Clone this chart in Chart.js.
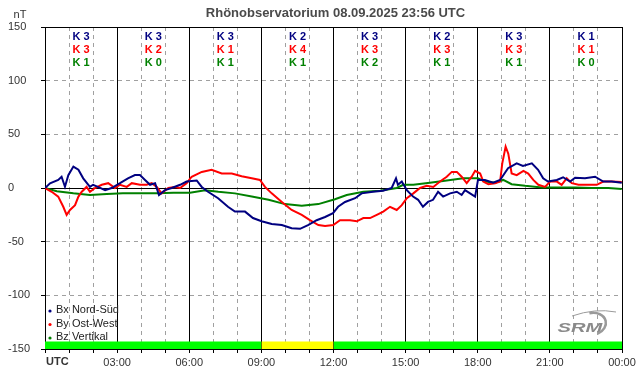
<!DOCTYPE html>
<html>
<head>
<meta charset="utf-8">
<title>Rhönobservatorium</title>
<script src="https://cdn.jsdelivr.net/npm/chart.js@4/dist/chart.umd.min.js"></script>
<style>
  html, body { margin: 0; padding: 0; background: #fff; }
</style>
</head>
<body>
<canvas id="chart" width="642" height="376"></canvas>
<script>
// --- data ---
const titleText = "Rhönobservatorium 08.09.2025 23:56 UTC";
const unitLabel = "nT";
const timeLabels = ["UTC", "03:00", "06:00", "09:00", "12:00", "15:00", "18:00", "21:00", "00:00"];

// K indices per 3-hour block
const kBx = [3, 3, 3, 2, 3, 2, 3, 1];
const kBy = [3, 2, 1, 4, 3, 3, 3, 1];
const kBz = [1, 0, 1, 1, 2, 1, 1, 0];

// hours since 00:00 UTC / nT
const bxTimes = [0, 0.21, 0.55, 0.69, 0.83, 0.97, 1.18, 1.39, 1.59, 1.87, 2.0, 2.2, 2.5, 2.77, 3.12, 3.45, 3.74, 3.95, 4.16, 4.37, 4.58, 4.74, 4.99, 5.27, 5.62, 5.89, 6.31, 6.52, 6.78, 7.2, 7.61, 7.9, 8.32, 8.65, 9.01, 9.43, 9.85, 10.26, 10.61, 10.94, 11.3, 11.65, 11.98, 12.19, 12.48, 12.9, 13.17, 13.64, 14.06, 14.42, 14.6, 14.68, 14.84, 15.05, 15.31, 15.52, 15.72, 15.93, 16.14, 16.35, 16.56, 16.85, 17.13, 17.33, 17.47, 17.68, 17.89, 18.01, 18.3, 18.64, 18.93, 19.26, 19.62, 19.88, 20.25, 20.51, 20.72, 20.92, 21.29, 21.55, 21.84, 22.05, 22.46, 22.88, 23.22, 23.57, 23.99];
const bxValues = [0, 4.4, 7.5, 10.5, 1.2, 12, 20, 17, 9, 1, 3, 1, -2, 0, 4.5, 9, 12, 12, 7.5, 3, 4.5, -6.5, -2, 0, 3, 6, 7, 1, -3.5, -9.5, -17.5, -22, -22, -28, -31, -33.5, -34.5, -37.5, -38, -34.5, -30, -27, -23.5, -17.5, -13, -9.5, -5, -3.5, -2.5, 0, 9, 3, 6, -2, -8, -11, -17.5, -13, -11, -3.5, -8, -5, -3.5, -6.5, -2, -5, -8, 7.5, 7.5, 5, 7.5, 18.5, 23, 20.5, 23, 17, 9, 6, 7.5, 10, 6, 9.5, 9, 10.5, 6, 6, 5];

const byTimes = [0, 0.28, 0.55, 0.76, 0.9, 1.04, 1.25, 1.39, 1.53, 1.73, 1.87, 2.08, 2.36, 2.63, 2.91, 3.12, 3.4, 3.61, 3.95, 4.23, 4.44, 4.65, 4.85, 5.13, 5.41, 5.62, 5.89, 6.1, 6.52, 6.93, 7.35, 7.77, 8.18, 8.6, 8.94, 9.15, 9.43, 9.85, 10.26, 10.68, 11.02, 11.37, 11.65, 11.99, 12.27, 12.69, 12.97, 13.24, 13.52, 13.8, 14.07, 14.35, 14.63, 14.84, 15.05, 15.32, 15.6, 15.88, 16.15, 16.43, 16.71, 16.92, 17.13, 17.33, 17.54, 17.75, 17.89, 18.1, 18.23, 18.44, 18.72, 18.93, 19.02, 19.16, 19.27, 19.41, 19.62, 19.9, 20.1, 20.31, 20.52, 20.8, 21.01, 21.29, 21.49, 21.7, 21.91, 22.19, 22.6, 22.95, 23.22, 23.57, 23.99];
const byValues = [0, -3.5, -8, -17.5, -25, -20.5, -16, -8, -3.5, 1, -3.5, 0, 3, 4.5, 0, 3, 1, 4.5, 3, 3, 4.5, 1, -5, 0, 1, 0, 4.5, 10.5, 15, 17, 13.5, 13.5, 11, 9, 7.5, 1, -5, -13, -20.5, -25, -30, -34.5, -35.5, -34.5, -30, -30, -31, -28, -28, -25, -22, -17.5, -20.5, -16, -9.5, -5, 0, 2, 1, 6, 10.5, 15, 15, 10.5, 4.5, 10.5, 16, 13.5, 6, 3.5, 4.5, 6, 23, 38.5, 32, 13.5, 12, 16, 13.5, 7.5, 3, 1, 6, 6, 3, 9, 4.5, 3, 3, 3, 6, 6, 5.5];

const bzTimes = [0, 0.49, 1.18, 1.87, 2.57, 3.24, 3.95, 4.65, 5.34, 6.03, 6.66, 7.21, 7.9, 8.6, 9.3, 9.98, 10.68, 11.37, 12.06, 12.55, 13.24, 13.94, 14.63, 14.9, 15.32, 16.01, 16.71, 17.4, 18.01, 18.3, 18.72, 19.06, 19.41, 19.97, 20.66, 21.35, 22.05, 22.74, 23.43, 23.99];
const bzValues = [0, -3, -5, -6.5, -5.5, -5, -5, -5, -4.5, -4.5, -2, -3.5, -5, -8, -11, -15, -16.5, -15, -10.5, -6.5, -3.5, -2.5, 0, 3, 3, 5, 7, 9, 9, 6, 5, 7.5, 3.5, 2, 0.5, 0.5, 0.5, 0, 0, -1];

// activity band along the bottom
const bandStarts = [0, 9, 12];
const bandEnds = [9, 12, 24];
const bandLevels = ["quiet", "active", "quiet"];

// --- styling ---
const FONT = "'Liberation Sans', Arial, sans-serif";
const BX_COLOR = "#000080";
const BY_COLOR = "#ff0000";
const BZ_COLOR = "#008000";
const BAND_COLORS = { quiet: "#00ff00", active: "#ffff00" };
const BAND_TOP = -143;

function toPoints(times, values) {
    return times.map((t, i) => ({ x: t, y: values[i] }));
}

function lineSet(label, times, values, color) {
    return {
        label: label,
        data: toPoints(times, values),
        borderColor: color,
        backgroundColor: color,
        borderWidth: 2,
        pointRadius: 0,
        tension: 0,
        fill: false
    };
}

const datasets = [
    lineSet("Bx Nord-Süd", bxTimes, bxValues, BX_COLOR),
    lineSet("By Ost-West", byTimes, byValues, BY_COLOR),
    lineSet("Bz Vertikal", bzTimes, bzValues, BZ_COLOR)
];

bandStarts.forEach((start, i) => {
    datasets.push({
        label: "",
        band: true,
        data: [{ x: start, y: BAND_TOP }, { x: bandEnds[i], y: BAND_TOP }],
        borderWidth: 0,
        borderColor: "rgba(0,0,0,0)",
        backgroundColor: BAND_COLORS[bandLevels[i]],
        pointRadius: 0,
        fill: "start"
    });
});

// texts around the plot: title, unit, K indices, legend, UTC, logo
const decorations = {
    id: "decorations",
    afterDraw(chart) {
        const { ctx, chartArea, scales } = chart;
        const xs = scales.x;
        ctx.save();

        // title
        ctx.fillStyle = "#4a4a4a";
        ctx.font = "bold 13px " + FONT;
        ctx.textAlign = "center";
        ctx.textBaseline = "middle";
        ctx.fillText(titleText, (chartArea.left + chartArea.right) / 2 + 2, 13);

        // unit
        ctx.fillStyle = "#333";
        ctx.font = "11px " + FONT;
        ctx.fillText(unitLabel, 20, 15);

        // UTC
        ctx.font = "bold 11px " + FONT;
        ctx.textAlign = "left";
        ctx.fillText(timeLabels[0], chartArea.left + 1, 362);

        // K indices
        const rows = [[kBx, BX_COLOR], [kBy, BY_COLOR], [kBz, BZ_COLOR]];
        ctx.font = "bold 11px " + FONT;
        ctx.textAlign = "center";
        rows.forEach(([vals, color], r) => {
            ctx.fillStyle = color;
            vals.forEach((k, i) => {
                const x = xs.getPixelForValue(i * 3 + 1.5);
                ctx.fillText("K " + k, x, chartArea.top + 10 + r * 13);
            });
        });

        // legend
        ctx.font = "11px " + FONT;
        ctx.textAlign = "left";
        const items = chart.data.datasets.filter(d => !d.band);
        items.forEach((d, i) => {
            const y = chartArea.bottom - 39 + i * 13.5;
            ctx.fillStyle = d.borderColor;
            ctx.beginPath();
            ctx.arc(chartArea.left + 5, y + 1, 1.6, 0, Math.PI * 2);
            ctx.fill();
            ctx.fillStyle = "#222";
            ctx.fillText(d.label, chartArea.left + 11, y);
        });

        // logo
        ctx.fillStyle = "#8a8a8a";
        ctx.strokeStyle = "#9a9a9a";
        ctx.save();
        ctx.translate(580, 328);
        ctx.scale(1.55, 1);
        ctx.font = "italic bold 13px " + FONT;
        ctx.textAlign = "center";
        ctx.fillText("SRM", 0, 0);
        ctx.restore();
        ctx.lineWidth = 2.5;
        ctx.beginPath();
        ctx.ellipse(592, 324, 14, 11, -0.2, -1.6, 1.3);
        ctx.stroke();
        ctx.lineWidth = 1;
        ctx.beginPath();
        ctx.moveTo(572, 316);
        ctx.quadraticCurveTo(595, 308, 616, 312);
        ctx.stroke();

        ctx.restore();
    }
};

const gridGray = "#a0a0a0";

new Chart(document.getElementById("chart"), {
    type: "line",
    data: { datasets: datasets },
    options: {
        responsive: false,
        animation: false,
        layout: { padding: { top: 27, right: 20, left: 8, bottom: 0 } },
        plugins: {
            legend: { display: false },
            tooltip: { enabled: false },
            title: { display: false }
        },
        scales: {
            x: {
                type: "linear",
                min: 0,
                max: 24,
                ticks: {
                    stepSize: 1,
                    autoSkip: false,
                    maxRotation: 0,
                    padding: 3,
                    color: "#333",
                    font: { family: FONT, size: 11 },
                    callback: v => (v % 3 === 0 && v > 0) ? timeLabels[v / 3] : ""
                },
                grid: {
                    color: c => (c.tick && c.tick.value % 3 === 0) ? "#000" : gridGray,
                    tickColor: "#000",
                    tickLength: 4,
                    lineWidth: 1
                },
                border: {
                    color: "#000",
                    dash: c => (c.tick && c.tick.value % 3 !== 0) ? [4, 4] : []
                },
                afterFit: s => { s.height = 27; }
            },
            y: {
                min: -150,
                max: 150,
                ticks: {
                    stepSize: 50,
                    padding: 3,
                    crossAlign: "far",
                    color: "#333",
                    font: { family: FONT, size: 11 }
                },
                grid: {
                    color: c => (c.tick && c.tick.value % 150 === 0) ? "#000" : gridGray,
                    tickColor: "#000",
                    tickLength: 4,
                    lineWidth: 1
                },
                border: {
                    color: "#000",
                    dash: c => (c.tick && c.tick.value % 150 !== 0) ? [4, 4] : []
                },
                afterFit: s => { s.width = 37; }
            }
        }
    },
    plugins: [decorations]
});
</script>
</body>
</html>
